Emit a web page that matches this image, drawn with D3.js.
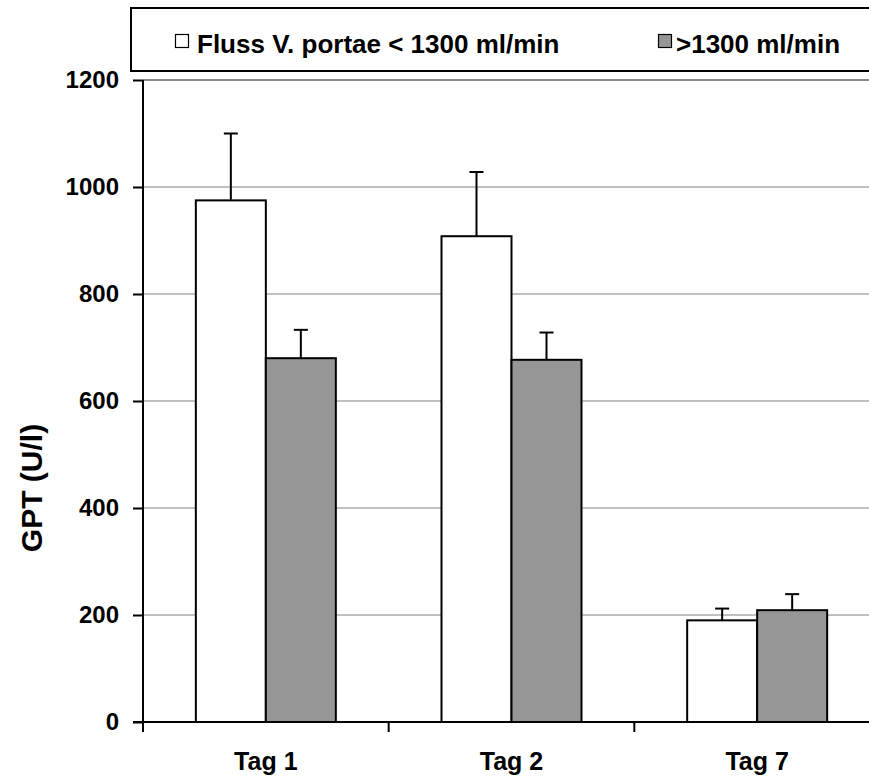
<!DOCTYPE html>
<html lang="en">
<head>
<meta charset="utf-8">
<title>GPT</title>
<script src="https://cdn.jsdelivr.net/npm/d3@7"></script>
<style>
  body { margin: 0; background: #fff; }
  svg { display: block; font-family: "Liberation Sans", Arial, sans-serif; font-weight: bold; }
</style>
</head>
<body>
<script>
var categories = ["Tag 1", "Tag 2", "Tag 7"];
var seriesNames = ["Fluss V. portae < 1300 ml/min", ">1300 ml/min"];
var lowValues = [975, 908, 190];
var lowErrors = [125, 120, 22];
var highValues = [680, 677, 209];
var highErrors = [53, 51, 30];
var yTicks = [0, 200, 400, 600, 800, 1000, 1200];
var colors = ["#ffffff", "#969696"];

var width = 869, height = 778;
var margin = {left: 143, right: -11, top: 80, bottom: 56};
var FONT = "Liberation Sans, Arial, sans-serif";

var svg = d3.select("body").append("svg")
    .attr("width", width)
    .attr("height", height);

var x = d3.scaleBand()
    .domain(categories)
    .range([margin.left, width - margin.right]);

var y = d3.scaleLinear()
    .domain([0, 1200])
    .range([height - margin.bottom, margin.top]);

var inner = d3.scaleBand()
    .domain([0, 1])
    .range([0, 140]);

// grid
svg.append("g").selectAll("line")
    .data(yTicks.slice(1))
    .enter().append("line")
    .attr("x1", margin.left).attr("x2", width - margin.right)
    .attr("y1", function(d){ return y(d); })
    .attr("y2", function(d){ return y(d); })
    .attr("stroke", function(d){ return d == 1200 ? "#8a8a8a" : "#c0c0c0"; })
    .attr("stroke-width", 2);

var rows = [];
categories.forEach(function(c, i){
  rows.push({cat: c, s: 0, v: lowValues[i], e: lowErrors[i]});
  rows.push({cat: c, s: 1, v: highValues[i], e: highErrors[i]});
});

function bx(d){ return x(d.cat) + x.bandwidth() / 2 - 70 + inner(d.s); }

// error bars
var err = svg.append("g").selectAll("g").data(rows).enter().append("g")
    .attr("stroke", "#000").attr("stroke-width", 2);
err.append("line")
    .attr("x1", function(d){ return bx(d) + 35; })
    .attr("x2", function(d){ return bx(d) + 35; })
    .attr("y1", function(d){ return y(d.v); })
    .attr("y2", function(d){ return y(d.v + d.e); });
err.append("line")
    .attr("x1", function(d){ return bx(d) + 28; })
    .attr("x2", function(d){ return bx(d) + 42; })
    .attr("y1", function(d){ return y(d.v + d.e); })
    .attr("y2", function(d){ return y(d.v + d.e); });

// bars
svg.append("g").selectAll("rect").data(rows).enter().append("rect")
    .attr("x", bx)
    .attr("y", function(d){ return y(d.v); })
    .attr("width", inner.bandwidth())
    .attr("height", function(d){ return y(0) - y(d.v); })
    .attr("fill", function(d){ return colors[d.s]; })
    .attr("stroke", "#000")
    .attr("stroke-width", 2);

// y axis
var yAxis = d3.axisLeft(y).tickValues(yTicks).tickFormat(d3.format("d"))
    .tickSize(10).tickPadding(14);
var gy = svg.append("g")
    .attr("transform", "translate(" + margin.left + ",0)")
    .call(yAxis);
gy.select(".domain").attr("stroke", "#000").attr("stroke-width", 2)
    .attr("d", "M0," + y(1200) + "V" + (y(0) + 10));
gy.selectAll(".tick line").attr("stroke", "#000").attr("stroke-width", 2);
gy.selectAll("text").attr("font-size", 24).attr("font-weight", "bold")
    .attr("font-family", FONT).attr("fill", "#000");

// x axis
var xAxis = d3.axisBottom(x).tickSize(0).tickPadding(0);
var gx = svg.append("g")
    .attr("transform", "translate(0," + y(0) + ")")
    .call(xAxis);
gx.select(".domain").attr("stroke", "#000").attr("stroke-width", 2)
    .attr("d", "M" + (margin.left - 10) + ",0H" + (width - margin.right));
gx.selectAll("text").attr("font-size", 25).attr("font-weight", "bold")
    .attr("font-family", FONT).attr("fill", "#000")
    .attr("dy", 0).attr("y", 48);
gx.selectAll(".sep").data(categories.slice(1)).enter().append("line")
    .attr("class", "sep")
    .attr("x1", function(d){ return x(d); }).attr("x2", function(d){ return x(d); })
    .attr("y1", 0).attr("y2", 10)
    .attr("stroke", "#000").attr("stroke-width", 2);

// y label
svg.append("text")
    .attr("transform", "translate(42,488) rotate(-90)")
    .attr("text-anchor", "middle")
    .attr("font-size", 30)
    .text("GPT (U/l)");

// legend
var lg = svg.append("g");
lg.append("rect")
    .attr("x", 131).attr("y", 8).attr("width", 760).attr("height", 63)
    .attr("fill", "#fff").attr("stroke", "#000").attr("stroke-width", 2);
var legX = [175, 658];
var items = lg.selectAll(".item").data(seriesNames).enter().append("g")
    .attr("transform", function(d, i){ return "translate(" + legX[i] + ",0)"; });
items.append("rect")
    .attr("x", 0.5).attr("y", 34.5).attr("width", 13).attr("height", 13)
    .attr("fill", function(d, i){ return colors[i]; })
    .attr("stroke", "#000").attr("stroke-width", 1.2);
items.append("text")
    .attr("x", function(d, i){ return i == 0 ? 22 : 18; })
    .attr("y", 53)
    .attr("font-size", 26)
    .text(function(d){ return d; });
</script>
</body>
</html>
